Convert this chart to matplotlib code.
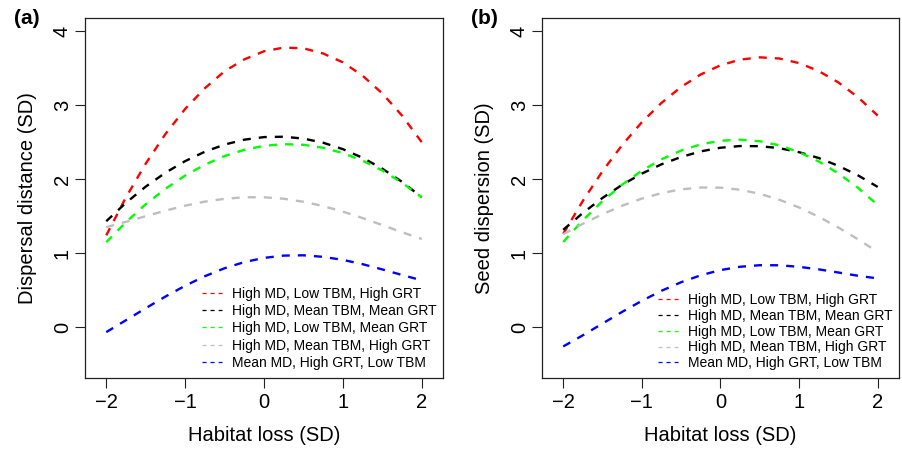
import matplotlib
matplotlib.use("Agg")
import matplotlib.pyplot as plt
from matplotlib.lines import Line2D

plt.rcParams['font.family'] = ['Liberation Sans', 'DejaVu Sans']
plt.rcParams['lines.scale_dashes'] = False

# habitat loss (SD)
x = [-2, -1.75, -1.5, -1.25, -1, -0.75, -0.5, -0.25, 0,
     0.25, 0.5, 0.75, 1, 1.25, 1.5, 1.75, 2]

labels = ["High MD, Low TBM, High GRT",
          "High MD, Mean TBM, Mean GRT",
          "High MD, Low TBM, Mean GRT",
          "High MD, Mean TBM, High GRT",
          "Mean MD, High GRT, Low TBM"]
colors = ["#FF0000", "#000000", "#00FF00", "#BEBEBE", "#0000FF"]

# (a) dispersal distance
a_red = [1.24, 1.755, 2.21, 2.61, 2.95, 3.23, 3.46, 3.62, 3.73,
         3.78, 3.77, 3.70, 3.58, 3.40, 3.16, 2.86, 2.50]
a_black = [1.431, 1.680, 1.899, 2.087, 2.244, 2.371, 2.468, 2.534, 2.569,
           2.574, 2.549, 2.493, 2.406, 2.289, 2.142, 1.964, 1.755]
a_green = [1.147, 1.419, 1.661, 1.870, 2.049, 2.196, 2.313, 2.397, 2.451,
           2.473, 2.465, 2.424, 2.353, 2.250, 2.117, 1.951, 1.755]
a_grey = [1.351, 1.423, 1.499, 1.574, 1.641, 1.696, 1.734, 1.755, 1.755,
          1.735, 1.694, 1.636, 1.561, 1.474, 1.379, 1.283, 1.191]
a_blue = [-0.069, 0.092, 0.254, 0.412, 0.558, 0.687, 0.795, 0.878, 0.935,
          0.966, 0.970, 0.949, 0.908, 0.850, 0.779, 0.704, 0.631]

# (b) seed dispersion
b_red = [1.26, 1.707, 2.108, 2.462, 2.77, 3.032, 3.248, 3.417, 3.54,
         3.617, 3.648, 3.632, 3.57, 3.462, 3.308, 3.107, 2.86]
b_black = [1.315, 1.543, 1.746, 1.924, 2.075, 2.201, 2.30, 2.376, 2.425,
           2.448, 2.446, 2.419, 2.365, 2.286, 2.18, 2.051, 1.895]
b_green = [1.15, 1.444, 1.703, 1.926, 2.115, 2.269, 2.388, 2.471, 2.52,
           2.534, 2.513, 2.457, 2.365, 2.239, 2.078, 1.882, 1.65]
b_grey = [1.255, 1.396, 1.526, 1.641, 1.737, 1.811, 1.862, 1.887, 1.885,
          1.857, 1.802, 1.721, 1.617, 1.491, 1.346, 1.186, 1.015]
b_blue = [-0.263, -0.112, 0.047, 0.205, 0.354, 0.490, 0.606, 0.700, 0.77,
          0.815, 0.836, 0.835, 0.814, 0.780, 0.737, 0.693, 0.657]

fig = plt.figure(figsize=(9.03, 4.49), dpi=100)
ax1 = fig.add_axes([0.0941, 0.1581, 0.3965, 0.8018])
ax2 = fig.add_axes([0.6002, 0.1581, 0.3953, 0.8018])


def panel(ax, series, ylab, tag, leg_xy, leg_sp):
    for y, c in zip(series, colors):
        ax.plot(x, y, color=c, lw=1.7, dashes=(5.8, 5.8))
    ax.set_xlim(-2.27, 2.27)
    ax.set_ylim(-0.69, 4.18)
    ax.set_xticks([-2, -1, 0, 1, 2])
    ax.set_yticks([0, 1, 2, 3, 4])
    ax.tick_params(direction='out', length=7, width=0.8, labelsize=14.5,
                   color='#222222')
    ax.tick_params(axis='x', pad=3.6)
    ax.tick_params(axis='y', pad=2.5)
    for t in ax.get_yticklabels():
        t.set_rotation(90)
        t.set_va('center')
    for s in ax.spines.values():
        s.set_linewidth(0.9)
        s.set_color('#222222')
    ax.set_xlabel("Habitat loss (SD)", fontsize=14.5, labelpad=10)
    ax.set_ylabel(ylab, fontsize=14.5, labelpad=11.5)
    handles = [Line2D([], [], color=c, lw=0.9, dashes=(2.9, 2.9)) for c in colors]
    ax.legend(handles, labels, loc='upper left', bbox_to_anchor=leg_xy,
              frameon=False, fontsize=10, handlelength=1.45, handletextpad=0.7,
              labelspacing=leg_sp, borderpad=0, borderaxespad=0)
    ax.text(-0.198, 1.0, tag, transform=ax.transAxes, fontsize=15,
            fontweight='bold', va='center', ha='left')


panel(ax1, [a_red, a_black, a_green, a_grey, a_blue],
      "Dispersal distance (SD)", "(a)", (0.327, 0.253), 0.23)
panel(ax2, [b_red, b_black, b_green, b_grey, b_blue],
      "Seed dispersion (SD)", "(b)", (0.325, 0.236), 0.13)

fig.savefig("out.png", dpi=100)
